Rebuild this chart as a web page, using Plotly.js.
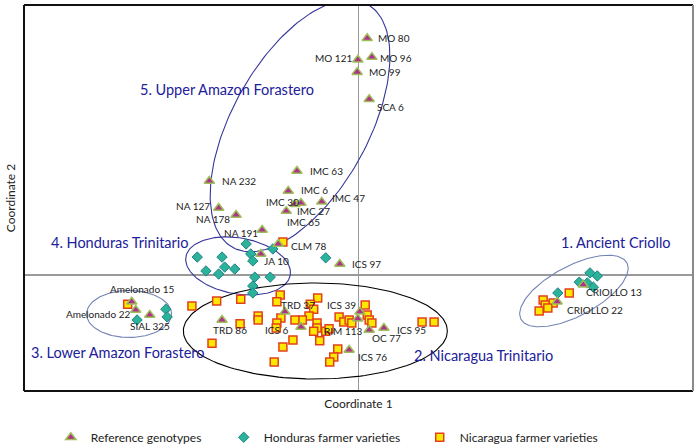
<!DOCTYPE html>
<html><head><meta charset="utf-8">
<script src="https://cdn.plot.ly/plotly-3.0.1.min.js"></script>
<style>html,body{margin:0;padding:0;background:#fff}#chart{width:700px;height:448px}</style>
</head><body><div id="chart"></div><script>
// ---- data (Coordinate 1, Coordinate 2) ----
const refNames = ['MO 80','MO 121','MO 96','MO 99','SCA 6','IMC 63','NA 232','IMC 6','NA 127','IMC 30','IMC 27','IMC 65','IMC 47','NA 178','NA 191','CLM 78','JA 10','ICS 97','TRD 37','ICS 39','TRD 86','ICS 6','RIM 113','OC 77','ICS 95','ICS 76','Amelonado 15','Amelonado 22','SIAL 325','CRIOLLO 13','CRIOLLO 22'];
const refX = [0.013,-0.001,0.020,-0.002,0.016,-0.092,-0.223,-0.105,-0.209,-0.095,-0.086,-0.108,-0.055,-0.183,-0.144,-0.120,-0.146,-0.028,-0.110,0.002,-0.204,-0.086,-0.001,0.016,0.038,-0.014,-0.339,-0.333,-0.312,0.336,0.297];
const refY = [0.614,0.558,0.565,0.526,0.456,0.270,0.244,0.218,0.174,0.184,0.187,0.166,0.190,0.156,0.117,0.081,0.055,0.029,-0.095,-0.095,-0.116,-0.134,-0.113,-0.142,-0.137,-0.194,-0.069,-0.090,-0.103,-0.025,-0.069];

const hondX = [-0.241,-0.204,-0.168,-0.128,-0.161,-0.158,-0.200,-0.185,-0.209,-0.228,-0.155,-0.132,-0.158,-0.158,-0.049,-0.331,-0.288,-0.286,0.346,0.357,0.330,0.342,0.351,0.298];
const hondY = [0.047,0.047,0.081,0.068,0.055,0.037,0.021,0.016,0.003,0.011,-0.005,-0.005,-0.028,-0.046,0.045,-0.116,-0.088,-0.108,0.006,-0.002,-0.018,-0.020,-0.031,-0.046];

const nicaX = [-0.249,-0.212,-0.176,-0.117,-0.122,-0.061,-0.072,-0.067,-0.074,-0.084,-0.095,-0.116,-0.122,-0.123,-0.150,-0.150,-0.177,-0.219,-0.098,-0.113,-0.126,-0.062,-0.062,-0.067,-0.049,-0.044,-0.058,-0.029,-0.022,-0.014,-0.010,0.010,0.013,0.016,0.020,-0.031,-0.037,-0.043,0.095,0.113,-0.113,-0.345,0.315,0.276,0.291,0.279,0.283,0.270];
const nicaY = [-0.080,-0.067,-0.062,-0.051,-0.069,-0.059,-0.075,-0.088,-0.106,-0.116,-0.116,-0.111,-0.124,-0.137,-0.106,-0.116,-0.126,-0.176,-0.168,-0.186,-0.225,-0.124,-0.137,-0.145,-0.145,-0.139,-0.170,-0.108,-0.121,-0.116,-0.124,-0.077,-0.103,-0.116,-0.124,-0.191,-0.212,-0.225,-0.121,-0.121,0.086,-0.075,-0.046,-0.064,-0.072,-0.077,-0.085,-0.093];

const groupNames = ['5. Upper Amazon Forastero','4. Honduras Trinitario','1. Ancient Criollo','3. Lower Amazon Forastero','2. Nicaragua Trinitario'];
const groupX = [-0.197,-0.357,0.385,-0.359,0.187];
const groupY = [0.480,0.086,0.086,-0.199,-0.207];

// ---- styles / geometry (not data) ----
const PXX = 669, PXY = 386;
const ellipses = [
  {cx:-0.0874, cy:0.387, a:139, b:68, angle:61, color:'#35359a'},
  {cx:-0.180, cy:0.024, a:53, b:28, angle:-10, color:'#35359a'},
  {cx:0.322, cy:-0.041, a:60, b:25, angle:28, color:'#7484b4'},
  {cx:-0.343, cy:-0.1005, a:42.5, b:23.5, angle:0, color:'#7484b4'},
  {cx:-0.0645, cy:-0.1446, a:132, b:48, angle:0, color:'#000000'}
];
const labelPos = [
  ['left',9,0],['right',-4,2],['left',6,-1],['left',10,0],['left',6,-8],
  ['left',11,0],['left',11,0],['left',11,1],['right',-7,2],['right',6,2],
  ['left',-6,-8],['left',-1,-11],['left',8,4],['right',-4,-4],['right',-2,-3],
  ['left',11,-2],['left',1,-7],['left',10,0],['left',-6,7],['right',-2,7],
  ['left',-11,-10],['right',-11,-3],['right',7,-12],['left',1,-8],['left',11,-2],
  ['left',7,-7],['center',10,13],['right',-4,-4],['center',0,-11],['left',1,-7],['left',8,-8]
];
const FONT = 'Lato, "Open Sans", sans-serif';

function ellipseTrace(e){
  const xs=[], ys=[], th=e.angle*Math.PI/180, n=180;
  for(let i=0;i<=n;i++){
    const t=2*Math.PI*i/n;
    const px=e.a*Math.cos(t)*Math.cos(th)-e.b*Math.sin(t)*Math.sin(th);
    const py=e.a*Math.cos(t)*Math.sin(th)+e.b*Math.sin(t)*Math.cos(th);
    xs.push(e.cx+px/PXX); ys.push(e.cy+py/PXY);
  }
  return {x:xs,y:ys,mode:'lines',line:{color:e.color,width:1.1},hoverinfo:'skip',showlegend:false};
}

const traces = ellipses.map(ellipseTrace);
traces.push({
  name:'Honduras farmer varieties', x:hondX, y:hondY, mode:'markers', type:'scatter', legend:'legend2',
  marker:{symbol:'diamond', size:8, color:'#2bb39a', line:{color:'#23808a', width:1}}
});
traces.push({
  name:'Nicaragua farmer varieties', x:nicaX, y:nicaY, mode:'markers', type:'scatter', legend:'legend3',
  marker:{symbol:'square', size:8, color:'#ffe800', line:{color:'#e2401c', width:1.5}}
});
traces.push({
  name:'Reference genotypes', x:refX, y:refY, mode:'markers', type:'scatter', legend:'legend',
  marker:{symbol:'triangle-up', size:9, color:'#b0308a', line:{color:'#9cbf5a', width:1.5}}
});

const annotations = [];
refNames.forEach((n,i)=>{
  annotations.push({x:refX[i], y:refY[i], text:n, showarrow:false, xanchor:labelPos[i][0], yanchor:'middle',
    xshift:labelPos[i][1], yshift:labelPos[i][2], font:{family:FONT, size:10, color:'#222'}});
});
groupNames.forEach((n,i)=>{
  annotations.push({x:groupX[i], y:groupY[i], text:n, showarrow:false, xanchor:'center', yanchor:'middle',
    font:{family:FONT, size:14.5, color:'#20209a'}});
});

const legBase = {orientation:'h', yanchor:'middle', xanchor:'left', yref:'container', xref:'container', y:0.024, bgcolor:'rgba(0,0,0,0)',
  font:{family:FONT, size:12, color:'#222'}, itemclick:false, itemdoubleclick:false};

const layout = {
  width:700, height:448, margin:{l:24, r:7, t:5, b:57, autoexpand:false},
  paper_bgcolor:'#fff', plot_bgcolor:'#fff',
  font:{family:FONT, color:'#222'},
  xaxis:{range:[-0.5,0.5], showgrid:false, showticklabels:false, ticks:'', zeroline:true, automargin:false,
    zerolinecolor:'#9a9a9a', zerolinewidth:1.5, showline:false, fixedrange:true,
    title:{text:'Coordinate 1', font:{family:FONT, size:12, color:'#222'}, standoff:8}},
  yaxis:{range:[-0.3,0.7], showgrid:false, showticklabels:false, ticks:'', zeroline:true, automargin:false,
    zerolinecolor:'#9a9a9a', zerolinewidth:1.5, showline:false, fixedrange:true,
    title:{text:'Coordinate 2', font:{family:FONT, size:12, color:'#222'}, standoff:4}},
  shapes:[
    {type:'line', xref:'paper', yref:'paper', x0:0, x1:1, y0:1, y1:1, line:{color:'#111', width:2}},
    {type:'line', xref:'paper', yref:'paper', x0:0, x1:1, y0:0, y1:0, line:{color:'#111', width:2}},
    {type:'line', xref:'paper', yref:'paper', x0:0, x1:0, y0:0, y1:1, line:{color:'#111', width:2}},
    {type:'line', xref:'paper', yref:'paper', x0:1, x1:1, y0:0, y1:1, line:{color:'#8a8a8a', width:2}}
  ],
  annotations:annotations,
  legend:Object.assign({}, legBase, {x:0.0726}),
  legend2:Object.assign({}, legBase, {x:0.3196}),
  legend3:Object.assign({}, legBase, {x:0.5996}),
  showlegend:true
};

Plotly.newPlot('chart', traces, layout, {displayModeBar:false, staticPlot:true});
</script></body></html>
